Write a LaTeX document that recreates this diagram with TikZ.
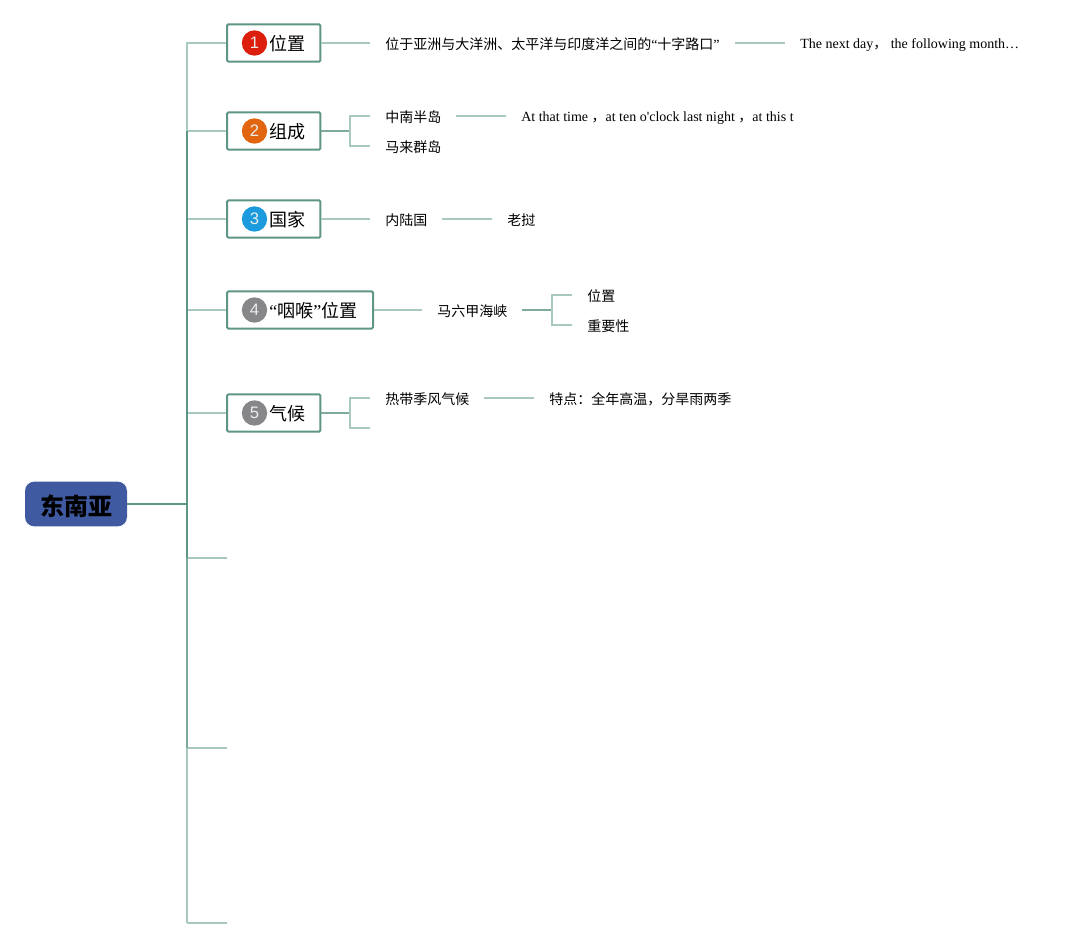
\documentclass[tikz,border=0pt]{standalone}
\usepackage{fontspec}
\setmainfont{Liberation Serif}
\newfontfamily\cjk{Noto Sans CJK SC}
\newfontfamily\engfont{Liberation Serif}
\newfontfamily\iconfont{Liberation Sans}
\definecolor{dk}{HTML}{5F9587}
\definecolor{md}{HTML}{7FAA9E}
\definecolor{lt}{HTML}{A9C9C0}
\definecolor{rootfill}{HTML}{3F5AA0}
\definecolor{bred}{HTML}{DC1E0C}
\definecolor{borange}{HTML}{E2650F}
\definecolor{bblue}{HTML}{1B9BDD}
\definecolor{bgrey}{HTML}{87878A}
\newcommand{\myopenq}{{\engfont “}}
\newcommand{\mycloseq}{{\engfont ”}}
\tikzset{
  x=0.75pt,y=-0.75pt,
  topicbox/.style={draw=dk,line width=1.5pt,rounded corners=1pt,fill=white,minimum height=28pt,inner sep=0pt,anchor=west,text=black},
  rootbox/.style={fill=rootfill,draw=none,rounded corners=7pt,minimum width=76.5pt,minimum height=33.5pt,inner sep=0pt,text height=17pt,text depth=0.4pt,font=\cjk\fontsize{18}{18}\selectfont\bfseries,text=black},
  badge/.style={circle,minimum size=19pt,inner sep=0pt,text=white!85!gray,font=\iconfont\fontsize{12.5}{12.5}\selectfont},
  toptext/.style={font=\cjk\fontsize{13.5}{15}\selectfont,inner sep=0pt,anchor=base west,text=black},
  leaf/.style={font=\cjk\fontsize{10.5}{12}\selectfont,inner sep=0pt,anchor=west,text=black},
  eng/.style={font=\engfont\fontsize{10.5}{12}\selectfont,inner sep=0pt,anchor=west,text=black},
  light/.style={draw=lt,line width=1.1pt},
  mid/.style={draw=md,line width=1.2pt},
  dark/.style={draw=dk,line width=1.4pt},
}
\begin{document}
\begin{tikzpicture}
\useasboundingbox (0,0) rectangle (1079,948);
% root
\node[rootbox] (root) at (76,504) {\hspace*{1.5pt}东南亚};
% trunk coordinates
\coordinate (tj) at (187,504);
\coordinate (t1) at (187,43);
\coordinate (t2) at (187,131);
\coordinate (t3) at (187,219);
\coordinate (t4) at (187,310);
\coordinate (t5) at (187,413);
\coordinate (t6) at (187,558);
\coordinate (t7) at (187,748);
\coordinate (t8) at (187,923);
\coordinate (e6) at (227,558);
\coordinate (e7) at (227,748);
\coordinate (e8) at (227,923);
% topic boxes
\node[topicbox,minimum width=70pt] (n1) at (226,43) {};
\node[topicbox,minimum width=70pt] (n2) at (226,131) {};
\node[topicbox,minimum width=70pt] (n3) at (226,219) {};
\node[topicbox,minimum width=109.5pt] (n4) at (226,310) {};
\node[topicbox,minimum width=70pt] (n5) at (226,413) {};
\node[badge,fill=bred] (b1) at (254.5,43) {1};
\node[badge,fill=borange] (b2) at (254.5,131) {2};
\node[badge,fill=bblue] (b3) at (254.5,219) {3};
\node[badge,fill=bgrey] (b4) at (254.5,310) {4};
\node[badge,fill=bgrey] (b5) at (254.5,413) {5};
\node[toptext] (l1) at (269,51) {位置};
\node[toptext] (l2) at (269,139) {组成};
\node[toptext] (l3) at (269,227) {国家};
\node[toptext] (l4) at (269,318) {\myopenq 咽喉\mycloseq 位置};
\node[toptext] (l5) at (269,421) {气候};
% level 2 texts
\node[leaf] (a1) at (385,44) {位于亚洲与大洋洲、太平洋与印度洋之间的\myopenq 十字路口\mycloseq};
\node[eng] (a2) at (800,45.5) {The next day{\cjk，} the following month…};
\node[leaf] (c1) at (385,117) {中南半岛};
\node[leaf] (c2) at (385,147) {马来群岛};
\node[eng] (c3) at (521,118.5) {At that time {\cjk，}at ten o'clock last night {\cjk，}at this t};
\node[leaf] (d1) at (385,220) {内陆国};
\node[leaf] (d2) at (507,220) {老挝};
\node[leaf] (f1) at (437,311) {马六甲海峡};
\node[leaf] (f2) at (587,296) {位置};
\node[leaf] (f3) at (587,326) {重要性};
\node[leaf] (g1) at (385,399) {热带季风气候};
\node[leaf] (g2) at (549,399) {特点：全年高温，分旱雨两季};
% free line ends
\coordinate (p1) at (370,43);
\coordinate (q1) at (735,43);
\coordinate (q2) at (785,43);
\coordinate (j2) at (350,131);
\coordinate (p2a) at (370,116);
\coordinate (p2b) at (370,146);
\coordinate (q3) at (456,116);
\coordinate (q4) at (506,116);
\coordinate (p3) at (370,219);
\coordinate (q5) at (442,219);
\coordinate (q6) at (492,219);
\coordinate (p4) at (422,310);
\coordinate (q7) at (522,310);
\coordinate (j4) at (552,310);
\coordinate (p4a) at (572,295);
\coordinate (p4b) at (572,325);
\coordinate (j5) at (350,413);
\coordinate (p5a) at (370,398);
\coordinate (p5b) at (370,428);
\coordinate (q8) at (484,398);
\coordinate (q9) at (534,398);
% trunk
\draw[light] (n1.west) -- (t1) -- (t2);
\draw[light] (n2.west) -- (t2);
\draw[light] (n3.west) -- (t3);
\draw[light] (n4.west) -- (t4);
\draw[light] (n5.west) -- (t5);
\draw[light] (e6) -- (t6);
\draw[light] (e7) -- (t7);
\draw[light] (t8) -- (e8);
\draw[light] (t7) -- (t8);
\draw[mid] (t6) -- (t7);
\draw[dark] (t2) -- (tj) -- (t6);
\draw[dark] (root.east) -- (tj);
% branches
\draw[light] (n1.east) -- (p1);
\draw[light] (q1) -- (q2);
\draw[mid] (n2.east) -- (j2);
\draw[light] (p2a) -| (j2) |- (p2b);
\draw[light] (q3) -- (q4);
\draw[light] (n3.east) -- (p3);
\draw[light] (q5) -- (q6);
\draw[light] (n4.east) -- (p4);
\draw[mid] (q7) -- (j4);
\draw[light] (p4a) -| (j4) |- (p4b);
\draw[mid] (n5.east) -- (j5);
\draw[light] (p5a) -| (j5) |- (p5b);
\draw[light] (q8) -- (q9);
\end{tikzpicture}
\end{document}
